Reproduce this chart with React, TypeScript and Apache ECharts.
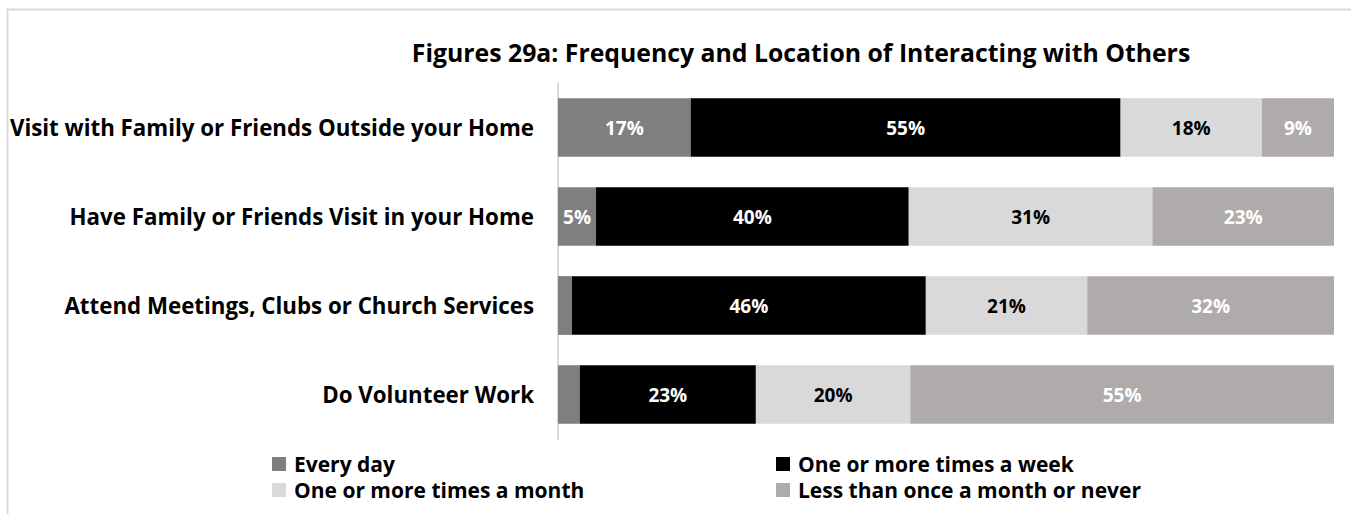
import React, { useEffect, useRef } from "react";
import * as echarts from "echarts";

const categories = [
  "Visit with Family or Friends Outside your Home",
  "Have Family or Friends Visit in your Home",
  "Attend Meetings, Clubs or Church Services",
  "Do Volunteer Work",
];
const seriesNames = [
  "Every day",
  "One or more times a week",
  "One or more times a month",
  "Less than once a month or never",
];
const everyDay = [17.1, 4.9, 1.8, 2.8];
const weekly = [55.4, 40.3, 45.6, 22.7];
const monthly = [18.2, 31.4, 20.8, 19.9];
const lessOften = [9.3, 23.4, 31.8, 54.6];
const colors = ["#7f7f7f", "#000000", "#d9d9d9", "#afabab"];
const labelColors = ["#ffffff", "#ffffff", "#000000", "#ffffff"];
const title = "Figures 29a: Frequency and Location of Interacting with Others";

const FONT = "Open Sans";

export default function App() {
  const ref = useRef<HTMLDivElement>(null);
  useEffect(() => {
    if (!ref.current) return;
    const chart = echarts.init(ref.current, null, { renderer: "svg" });
    const values = [everyDay, weekly, monthly, lessOften];
    const legendText = {
      fontFamily: FONT,
      fontWeight: "bold",
      fontSize: 21,
      lineHeight: 22,
      color: "#000",
      padding: [0, 0, 0, 3],
    };
    chart.setOption({
      animation: false,
      backgroundColor: "#ffffff",
      textStyle: { fontFamily: FONT },
      title: {
        text: title,
        left: 796,
        textAlign: "center",
        top: 34,
        textStyle: { fontFamily: FONT, fontWeight: "bold", fontSize: 24.8, color: "#000" },
      },
      graphic: [
        {
          type: "rect",
          shape: { x: 7.5, y: 9.5, width: 1400, height: 600 },
          style: { fill: "none", stroke: "#d9d9d9", lineWidth: 2 },
          silent: true,
        },
      ],
      legend: [
        {
          data: [seriesNames[0], seriesNames[2]],
          orient: "vertical",
          left: 272,
          top: 453,
          padding: 0,
          itemWidth: 14,
          itemHeight: 14,
          itemGap: 4,
          icon: "rect",
          textStyle: legendText,
        },
        {
          data: [seriesNames[1], seriesNames[3]],
          orient: "vertical",
          left: 776,
          top: 453,
          padding: 0,
          itemWidth: 14,
          itemHeight: 14,
          itemGap: 4,
          icon: "rect",
          textStyle: legendText,
        },
      ],
      grid: { left: 558, right: 17, top: 83, height: 356, containLabel: false },
      xAxis: {
        type: "value",
        min: 0,
        max: 100,
        show: false,
      },
      yAxis: {
        type: "category",
        data: categories,
        inverse: true,
        axisLine: { show: true, lineStyle: { color: "#d9d9d9", width: 2 } },
        axisTick: { show: false },
        axisLabel: {
          margin: 24,
          fontFamily: FONT,
          fontWeight: "bold",
          fontSize: 22.3,
          color: "#000",
        },
      },
      series: seriesNames.map((name, i) => ({
        name,
        type: "bar",
        stack: "total",
        barCategoryGap: "34%",
        data: values[i],
        itemStyle: { color: colors[i] },
        label: {
          show: true,
          position: "inside",
          fontFamily: FONT,
          fontWeight: "bold",
          fontSize: 19,
          color: labelColors[i],
          formatter: (p: any) => (p.value >= 4 ? Math.round(p.value) + "%" : ""),
        },
      })),
    });
    return () => chart.dispose();
  }, []);
  return (
    <div
      ref={ref}
      style={{ position: "fixed", left: 0, top: 0, width: 1351, height: 514 }}
    />
  );
}
